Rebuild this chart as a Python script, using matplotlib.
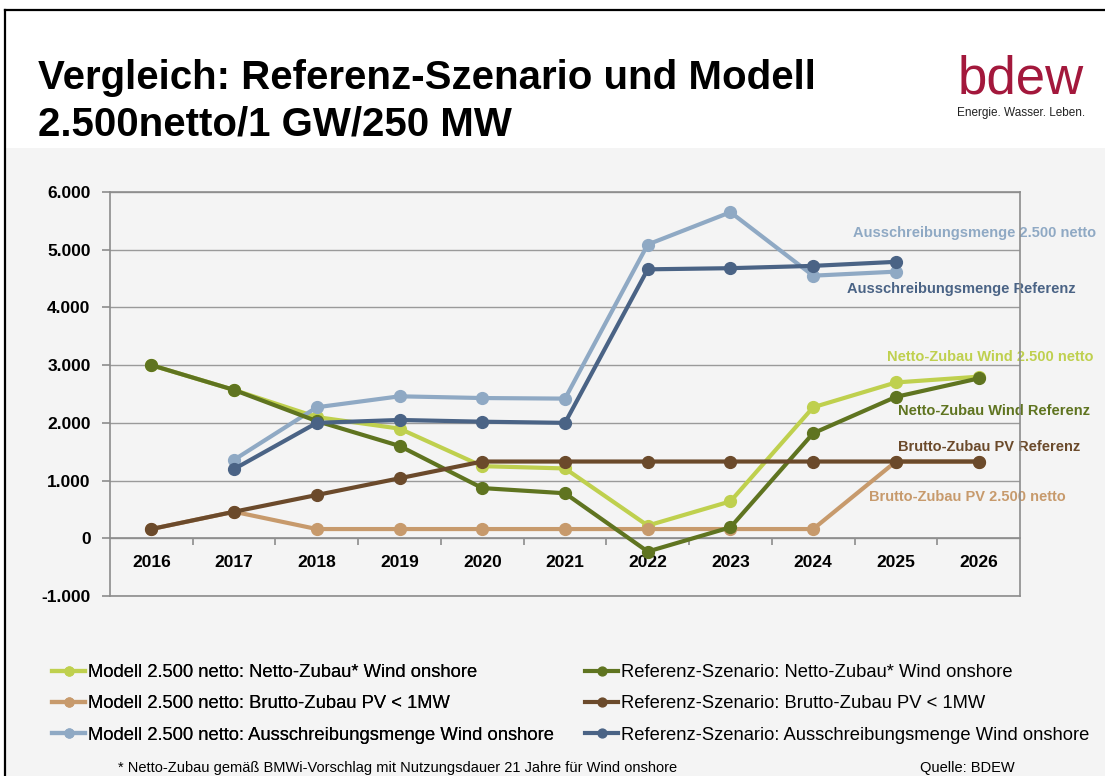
#!/usr/bin/env python3
import numpy as np
import matplotlib
matplotlib.use("Agg")
import matplotlib.pyplot as plt
from matplotlib.lines import Line2D
from matplotlib.patches import Rectangle
from matplotlib.ticker import FuncFormatter, FixedLocator

plt.rcParams["font.family"] = ["Liberation Sans", "DejaVu Sans"]

W, H = 1105, 776

years = ["2016", "2017", "2018", "2019", "2020", "2021",
         "2022", "2023", "2024", "2025", "2026"]
nan = np.nan

# Modell 2.500 netto
modell_wind = [3000, 2570, 2100, 1900, 1250, 1210, 220, 640, 2270, 2700, 2800]
modell_pv = [160, 460, 160, 160, 160, 160, 160, 160, 160, 1330, 1330]
modell_aus = [nan, 1360, 2270, 2460, 2430, 2420, 5090, 5650, 4550, 4620, nan]
# Referenz-Szenario
ref_wind = [3000, 2570, 2030, 1600, 870, 780, -230, 190, 1820, 2450, 2770]
ref_pv = [160, 460, 750, 1040, 1330, 1330, 1330, 1330, 1330, 1330, 1330]
ref_aus = [nan, 1200, 2000, 2050, 2020, 2000, 4660, 4680, 4720, 4790, nan]

series = [
    ("Modell 2.500 netto: Netto-Zubau* Wind onshore", modell_wind, "#bfd04e"),
    ("Modell 2.500 netto: Brutto-Zubau PV < 1MW", modell_pv, "#c79a6c"),
    ("Modell 2.500 netto: Ausschreibungsmenge Wind onshore", modell_aus, "#8fa9c4"),
    ("Referenz-Szenario: Netto-Zubau* Wind onshore", ref_wind, "#5f7420"),
    ("Referenz-Szenario: Brutto-Zubau PV < 1MW", ref_pv, "#6b4a2b"),
    ("Referenz-Szenario: Ausschreibungsmenge Wind onshore", ref_aus, "#4a6385"),
]

# end labels next to the lines: (text, colour, x px, y px)
end_labels = [
    ("Ausschreibungsmenge 2.500 netto", "#8fa9c4", 853, 233),
    ("Ausschreibungsmenge Referenz", "#4a6385", 847, 289),
    ("Netto-Zubau Wind 2.500 netto", "#bfd04e", 887, 357),
    ("Netto-Zubau Wind Referenz", "#5f7420", 898, 411),
    ("Brutto-Zubau PV Referenz", "#6b4a2b", 898, 447),
    ("Brutto-Zubau PV 2.500 netto", "#c79a6c", 869, 497),
]


def fx(px):
    return px / W


def fy(py):
    return 1 - py / H


def de_fmt(v, pos):
    return f"{int(v):,}".replace(",", ".")


fig = plt.figure(figsize=(W / 100, H / 100), dpi=100, facecolor="white")

# background: grey body below the white header, black frame top/left
fig.patches.append(Rectangle((fx(6), 0), 1, fy(148), transform=fig.transFigure,
                             facecolor="#f4f4f4", edgecolor="none", zorder=-5))
fig.add_artist(Line2D([fx(5), 1], [fy(10), fy(10)], color="black", lw=1.6))
fig.add_artist(Line2D([fx(5), fx(5)], [0, fy(10)], color="black", lw=1.6))

# header
fig.text(fx(38), fy(89), "Vergleich: Referenz-Szenario und Modell",
         fontsize=29, fontweight="bold", va="baseline", ha="left")
fig.text(fx(38), fy(135), "2.500netto/1 GW/250 MW",
         fontsize=29, fontweight="bold", va="baseline", ha="left")
fig.text(fx(1021), fy(93), "bdew", fontsize=38, color="#a3183c",
         va="baseline", ha="center")
fig.text(fx(1021), fy(113), "Energie. Wasser. Leben.", fontsize=8.5,
         color="#222222", va="center", ha="center")

ax = fig.add_axes([fx(110), fy(596), fx(1020) - fx(110), fy(192) - fy(596)],
                  zorder=2)
ax.set_facecolor("none")

x = np.arange(len(years))
lines = []
for label, vals, col in series:
    ln, = ax.plot(x, vals, color=col, lw=3, marker="o", markersize=8.5,
                  label=label, zorder=3, clip_on=False)
    lines.append(ln)

ax.set_xlim(-0.5, len(years) - 0.5)
ax.set_ylim(-1000, 6000)
ax.set_yticks(np.arange(-1000, 6001, 1000))
ax.yaxis.set_major_formatter(FuncFormatter(de_fmt))
ax.grid(axis="y", color="#9a9a9a", lw=1)
ax.set_axisbelow(True)

# x axis crosses at 0 like in the original
ax.spines["bottom"].set_position(("data", 0))
for s in ["bottom", "left", "right", "top"]:
    ax.spines[s].set_color("#8c8c8c")
    ax.spines[s].set_linewidth(1.2)
ax.axhline(-1000, color="#8c8c8c", lw=1.2, clip_on=False)

ax.xaxis.set_major_locator(FixedLocator(np.arange(0.5, len(years) - 0.5, 1)))
ax.xaxis.set_major_formatter(FuncFormatter(lambda v, p: ""))
ax.set_xticks(x, years, minor=True)
ax.tick_params(axis="x", which="major", direction="out", length=5,
               color="#8c8c8c", width=1.2)
ax.tick_params(axis="x", which="minor", length=0, pad=12)
for t in ax.get_xticklabels(minor=True):
    t.set_fontweight("bold")
    t.set_fontsize(12.5)
ax.tick_params(axis="y", direction="out", length=6, color="#8c8c8c",
               width=1.2, pad=8, labelsize=12.5)
for t in ax.get_yticklabels():
    t.set_fontweight("bold")

for text, col, px, py in end_labels:
    fig.text(fx(px), fy(py), text, color=col, fontsize=10.5,
             fontweight="bold", va="center", ha="left", zorder=1)

# legends, two columns placed separately
leg_kw = dict(frameon=False, fontsize=13.2, handlelength=1.8, handletextpad=0.15,
              labelspacing=0.78, borderpad=0, borderaxespad=0, markerscale=0.75,
              loc="upper left")
leg1 = fig.legend(handles=lines[:3], bbox_to_anchor=(fx(52), fy(664)), **leg_kw)
fig.legend(handles=lines[3:], bbox_to_anchor=(fx(585), fy(664)), **leg_kw)
fig.add_artist(leg1)

fig.text(fx(118), fy(775), "* Netto-Zubau gemäß BMWi-Vorschlag mit Nutzungsdauer "
         "21 Jahre für Wind onshore", fontsize=10.5, va="bottom", ha="left")
fig.text(fx(920), fy(775), "Quelle: BDEW", fontsize=10.5, va="bottom", ha="left")

fig.savefig("out.png", dpi=100, facecolor=fig.get_facecolor())
